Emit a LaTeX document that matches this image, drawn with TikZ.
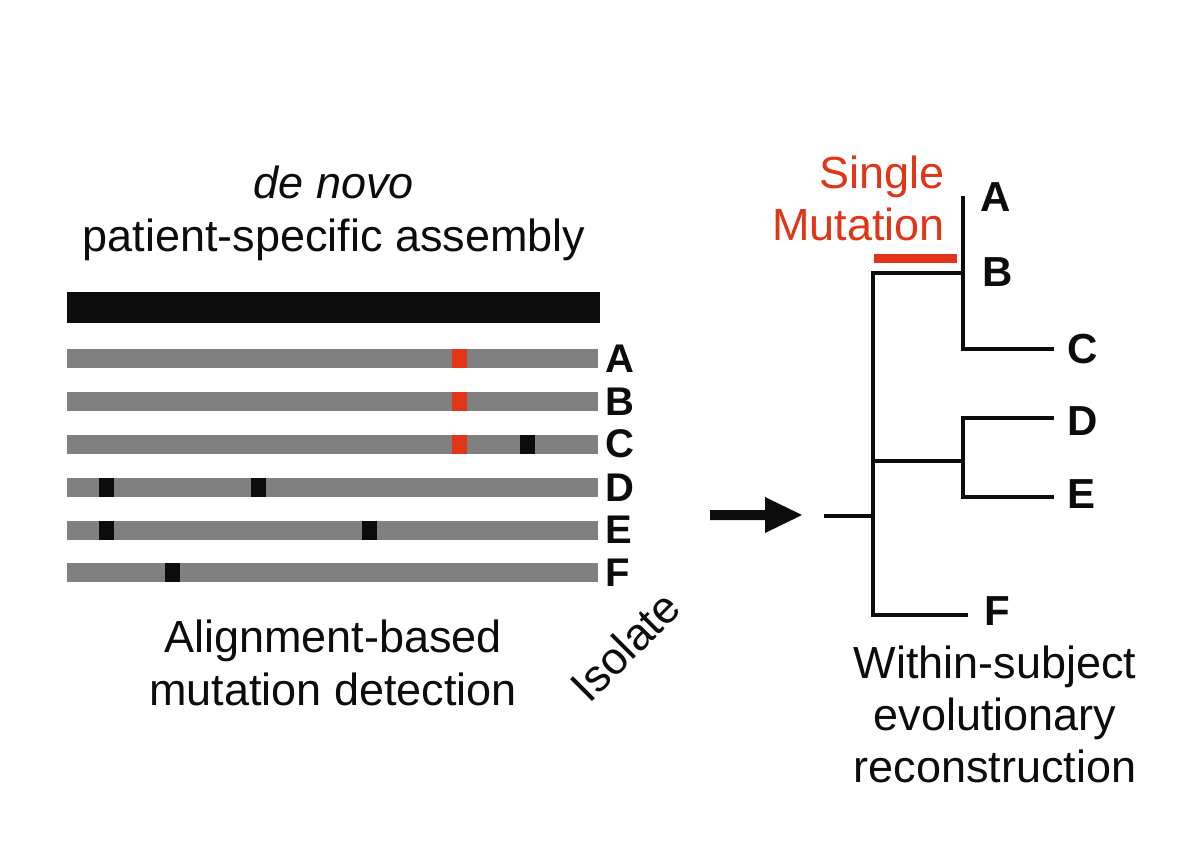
\documentclass[tikz,border=0pt]{standalone}
\usepackage{fontspec}
\setmainfont{Liberation Sans}
\definecolor{mutred}{RGB}{226,52,22}
\definecolor{bargray}{RGB}{128,128,128}
\definecolor{inkblack}{RGB}{12,12,12}
\begin{document}
\begin{tikzpicture}[x=1pt,y=-1pt,
  lbl/.style={inner sep=0pt,anchor=base,font=\fontsize{45}{52}\selectfont,text=inkblack},
  redlbl/.style={lbl,text=mutred,anchor=base east},
  isolab/.style={inner sep=0pt,anchor=west,font=\fontsize{40}{46}\selectfont\bfseries,text=inkblack},
  treelab/.style={inner sep=0pt,anchor=west,font=\fontsize{42}{48}\selectfont\bfseries,text=inkblack},
  branch/.style={draw=inkblack,line width=4.3pt,line cap=rect},
  blackmut/.style={fill=inkblack},
  redmut/.style={fill=mutred}]
\path[use as bounding box] (0,0) rectangle (1192,847);

% titles
\node[lbl] (t1) at (334,198) {\itshape de novo};
\node[lbl] (t2) at (334,251) {patient-specific assembly};
\node[lbl] (t3) at (333,652) {Alignment-based};
\node[lbl] (t4) at (333,705) {mutation detection};
\node[lbl,anchor=center,rotate=45] (iso) at (625,646) {Isolate};

% reference bar
\fill[inkblack] (67,292) rectangle (600,323);

% isolate bars
\foreach \yc/\nm in {358.5/A,401.5/B,444/C,487.5/D,530/E,572.5/F}{
  \fill[bargray] (67,\yc-9.5) rectangle (598,\yc+9.5);
  \node[isolab] (L\nm) at (605,\yc) {\nm};
}
% red mutations
\foreach \yc in {358.5,401.5,444}{
  \fill[redmut] (452,\yc-9.5) rectangle (467,\yc+9.5);
}
% black mutations
\fill[blackmut] (520,444-9.5) rectangle (535,444+9.5);
\fill[blackmut] (99,487.5-9.5) rectangle (114,487.5+9.5);
\fill[blackmut] (251,487.5-9.5) rectangle (266,487.5+9.5);
\fill[blackmut] (99,530-9.5) rectangle (114,530+9.5);
\fill[blackmut] (362,530-9.5) rectangle (377,530+9.5);
\fill[blackmut] (165,572.5-9.5) rectangle (180,572.5+9.5);

% arrow
\fill[inkblack] (710,510) -- (765,510) -- (765,497) -- (802,515) -- (765,533) -- (765,520) -- (710,520) -- cycle;

% tree
\coordinate (root) at (826,516);
\coordinate (m) at (873,516);
\coordinate (mTop) at (873,273);
\coordinate (mBot) at (873,615);
\coordinate (mMid) at (873,461);
\coordinate (abTop) at (963,198);
\coordinate (abB) at (963,273);
\coordinate (abC) at (963,349);
\coordinate (deD) at (963,418);
\coordinate (deM) at (963,461);
\coordinate (deE) at (963,497);

\node[treelab] (TA) at (980,197.5) {A};
\node[treelab] (TB) at (982,272.5) {B};
\node[treelab] (TC) at (1067,349) {C};
\node[treelab] (TD) at (1067,421) {D};
\node[treelab] (TE) at (1067,494) {E};
\node[treelab] (TF) at (984,611) {F};

\draw[branch] (root) -- (m);
\draw[branch] (mTop) -- (mBot);
\draw[branch] (mTop) -- (abB);
\draw[branch] (abTop) -- (abC) -- (1052,349);
\draw[branch] (mMid) -- (deM);
\draw[branch] (1052,418) -- (deD) -- (deE) -- (1052,497);
\draw[branch] (mBot) -- (966,615);

% single mutation
\fill[mutred] (874,254) rectangle (957,263);
\node[redlbl] (s1) at (945,188) {Single};
\node[redlbl] (s2) at (945,240) {Mutation};

% bottom right label
\node[lbl] (w1) at (995,678) {Within-subject};
\node[lbl] (w2) at (995,730) {evolutionary};
\node[lbl] (w3) at (995,782) {reconstruction};
\end{tikzpicture}
\end{document}
